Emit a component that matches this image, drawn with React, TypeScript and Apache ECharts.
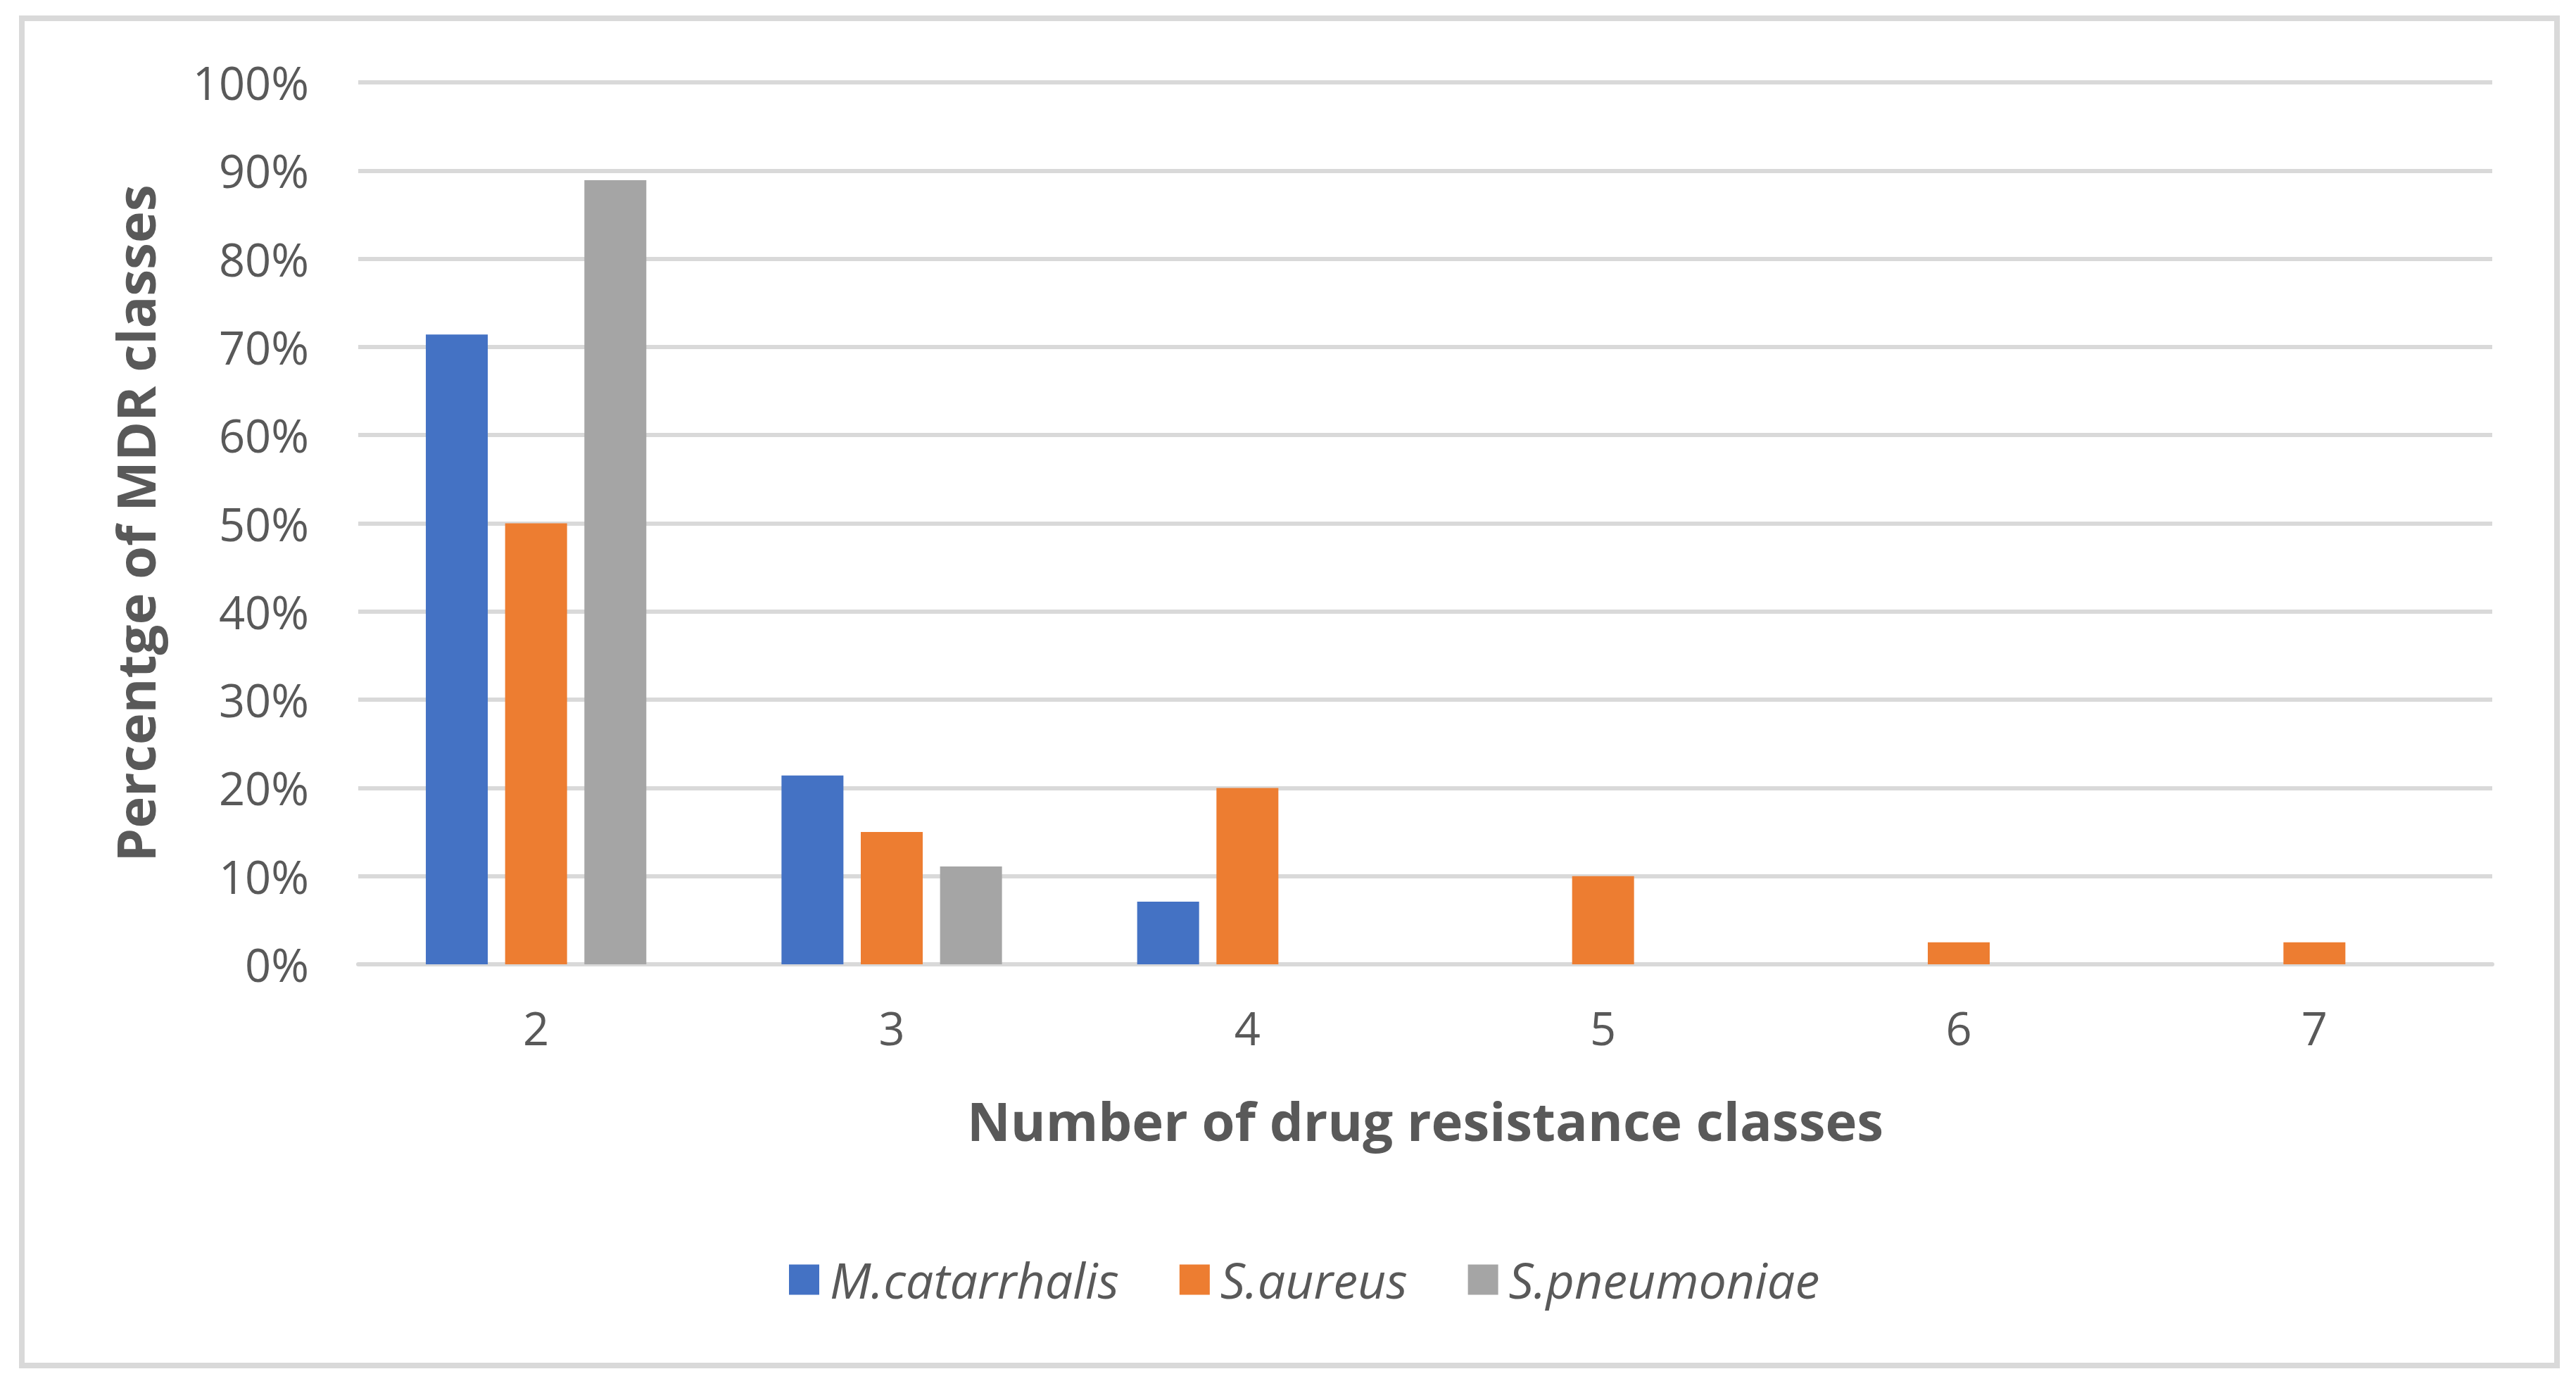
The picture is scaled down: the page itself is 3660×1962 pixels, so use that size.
import React, { useEffect, useRef } from "react";
import * as echarts from "echarts";

const categories = ["2", "3", "4", "5", "6", "7"];
const seriesNames = ["M.catarrhalis", "S.aureus", "S.pneumoniae"];
const mCatarrhalis = [71.4, 21.4, 7.1, 0, 0, 0];
const sAureus = [50, 15, 20, 10, 2.5, 2.5];
const sPneumoniae = [88.9, 11.1, 0, 0, 0, 0];
const colors = ["#4472C4", "#ED7D31", "#A5A5A5"];

export default function App() {
  const ref = useRef<HTMLDivElement>(null);
  useEffect(() => {
    document.body.style.margin = "0";
    const chart = echarts.init(ref.current!, null, { renderer: "svg" });
    const values = [mCatarrhalis, sAureus, sPneumoniae];
    chart.setOption({
      animation: false,
      backgroundColor: "#ffffff",
      textStyle: { fontFamily: "Open Sans" },
      graphic: [
        {
          type: "rect",
          shape: { x: 31, y: 26, width: 3602, height: 1914 },
          style: { fill: "none", stroke: "#D9D9D9", lineWidth: 8 },
          silent: true,
        },
      ],
      grid: { left: 509, right: 119, top: 117, bottom: 592 },
      legend: {
        data: seriesNames,
        left: 1116,
        top: 1778,
        itemWidth: 43,
        itemHeight: 43,
        itemGap: 86,
        icon: "rect",
        textStyle: {
          fontFamily: "Open Sans",
          fontStyle: "italic",
          fontSize: 70,
          color: "#595959",
          padding: [0, 0, 0, 10],
        },
      },
      xAxis: {
        type: "category",
        data: categories,
        name: "Number of drug resistance classes",
        nameLocation: "middle",
        nameGap: 183,
        nameTextStyle: {
          fontFamily: "Open Sans",
          fontWeight: "bold",
          fontSize: 76,
          color: "#595959",
        },
        axisLine: { show: true, lineStyle: { color: "#D9D9D9", width: 6 } },
        axisTick: { show: false },
        axisLabel: {
          margin: 57,
          fontFamily: "Open Sans",
          fontSize: 65,
          color: "#595959",
        },
      },
      yAxis: {
        type: "value",
        min: 0,
        max: 100,
        interval: 10,
        name: "Percentge of MDR classes",
        nameLocation: "middle",
        nameGap: 280,
        nameTextStyle: {
          fontFamily: "Open Sans",
          fontWeight: "bold",
          fontSize: 76,
          color: "#595959",
        },
        axisLine: { show: false },
        axisTick: { show: false },
        axisLabel: {
          margin: 70,
          formatter: "{value}%",
          fontFamily: "Open Sans",
          fontSize: 65,
          color: "#595959",
        },
        splitLine: { lineStyle: { color: "#D9D9D9", width: 6 } },
      },
      series: seriesNames.map((name, i) => ({
        name,
        type: "bar",
        data: values[i],
        barWidth: 88,
        barGap: "28%",
        itemStyle: { color: colors[i] },
      })),
    });
    return () => chart.dispose();
  }, []);
  return <div ref={ref} style={{ width: 3660, height: 1962 }} />;
}
